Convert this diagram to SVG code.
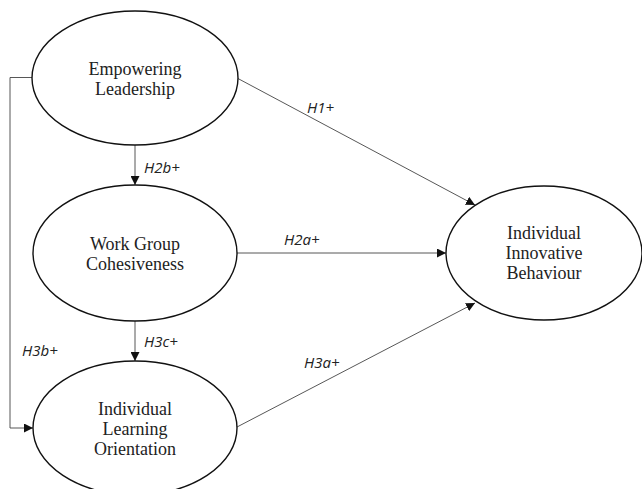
<svg xmlns="http://www.w3.org/2000/svg" width="642" height="489" viewBox="0 0 642 489">
<defs>
<marker id="arr" viewBox="0 0 10 10" refX="10" refY="5" markerWidth="9" markerHeight="9" markerUnits="userSpaceOnUse" orient="auto">
<path d="M0,0 L10,5 L0,10 z" fill="#111"/>
</marker>
</defs>
<style>
.node ellipse{fill:#fff;stroke:#111;stroke-width:1.4}
.node text{font-family:"Liberation Serif","Times New Roman",serif;font-size:18px;fill:#222;text-anchor:middle}
.conn path{fill:none;stroke:#444;stroke-width:0.9}
.lbl{font-family:"Open Sans","Liberation Sans",sans-serif;font-style:italic;font-size:15px;fill:#222}
</style>
<rect width="642" height="489" fill="#fff"/>
<g class="conn">
<path d="M237,78 L475,205" marker-end="url(#arr)"/>
<path d="M237,253 L446,253" marker-end="url(#arr)"/>
<path d="M237,427 L475,303" marker-end="url(#arr)"/>
<path d="M135,145 L135,185" marker-end="url(#arr)"/>
<path d="M135,321 L135,361" marker-end="url(#arr)"/>
<path d="M32,77.5 L10,77.5 L10,428 L33,428" marker-end="url(#arr)"/>
</g>
<g id="lbl-h1"><text class="lbl" x="307" y="113">H1+</text></g>
<g id="lbl-h2a"><text class="lbl" x="284" y="245">H2a+</text></g>
<g id="lbl-h3a"><text class="lbl" x="304" y="368">H3a+</text></g>
<g id="lbl-h2b"><text class="lbl" x="144" y="173">H2b+</text></g>
<g id="lbl-h3c"><text class="lbl" x="144" y="347">H3c+</text></g>
<g id="lbl-h3b"><text class="lbl" x="22" y="356">H3b+</text></g>
<g id="empowering" class="node">
<ellipse cx="135" cy="78" rx="103" ry="67"/>
<text x="135" y="75">Empowering</text>
<text x="135" y="95">Leadership</text>
</g>
<g id="workgroup" class="node">
<ellipse cx="135" cy="253" rx="102" ry="68"/>
<text x="135" y="250">Work Group</text>
<text x="135" y="270">Cohesiveness</text>
</g>
<g id="learning" class="node">
<ellipse cx="135" cy="428" rx="102" ry="67"/>
<text x="135" y="415">Individual</text>
<text x="135" y="435">Learning</text>
<text x="135" y="455">Orientation</text>
</g>
<g id="innovative" class="node">
<ellipse cx="544" cy="253" rx="98" ry="67"/>
<text x="544" y="239">Individual</text>
<text x="544" y="259">Innovative</text>
<text x="544" y="279">Behaviour</text>
</g>
</svg>
